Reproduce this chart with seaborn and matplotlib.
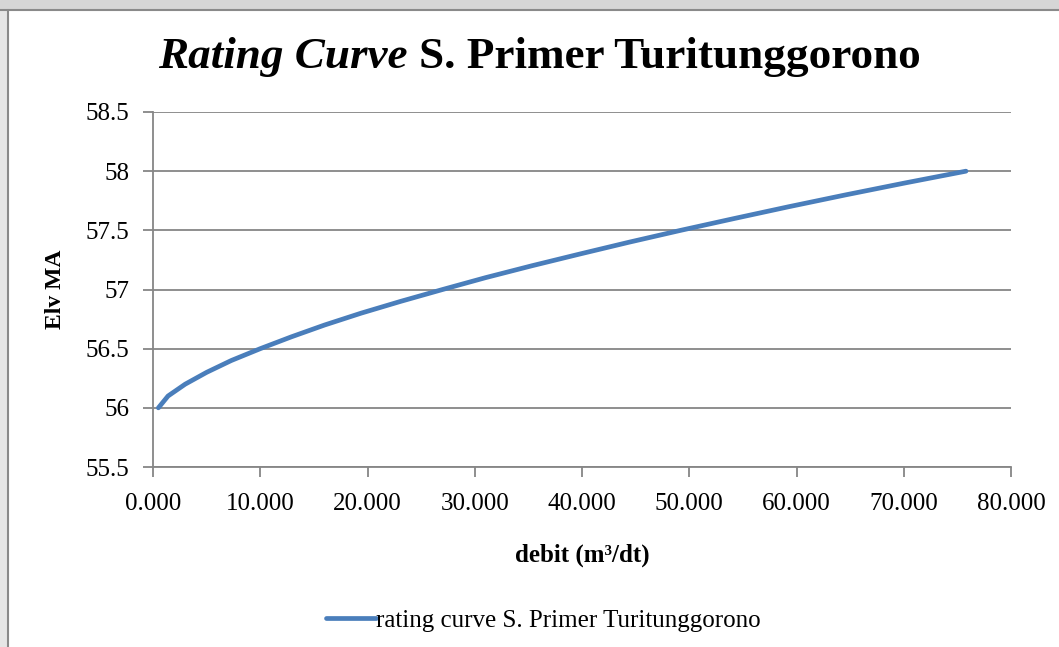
import seaborn as sns
import matplotlib.pyplot as plt
import matplotlib.patches as mpatches
import matplotlib.lines as mlines
import pandas as pd

# Data: elevation (m) vs discharge (m3/dt)
elevation = [56.0, 56.1, 56.2, 56.3, 56.4, 56.5, 56.6, 56.7, 56.8, 56.9, 57.0,
             57.1, 57.2, 57.3, 57.4, 57.5, 57.6, 57.7, 57.8, 57.9, 58.0]
debit = [0.5, 1.4, 3.0, 5.0, 7.3, 10.0, 12.9, 16.0, 19.4, 23.1, 27.0,
         31.0, 35.3, 39.8, 44.4, 49.2, 54.2, 59.3, 64.6, 70.1, 75.8]
series_name = "rating curve S. Primer Turitunggorono"
y_ticks = [55.5, 56, 56.5, 57, 57.5, 58, 58.5]
x_ticks = [0, 10, 20, 30, 40, 50, 60, 70, 80]

df = pd.DataFrame({"debit": debit, "elv": elevation})

sns.set_style("white")
plt.rcParams["font.family"] = ["Liberation Serif", "DejaVu Serif"]
plt.rcParams["text.color"] = "black"
plt.rcParams["axes.labelcolor"] = "black"

fig = plt.figure(figsize=(10.59, 6.47), dpi=100)
ax = fig.add_axes([0.1445, 0.2782, 0.8102, 0.5487])

line_color = "#4a7ebb"
grid_color = "#868686"

sns.lineplot(data=df, x="debit", y="elv", ax=ax, color=line_color,
             linewidth=3.4, sort=False, legend=False)

ax.set_xlim(0, 80)
ax.set_ylim(55.5, 58.5)
ax.set_xticks(x_ticks)
ax.set_xticklabels([f"{v:.3f}" for v in x_ticks])
ax.set_yticks(y_ticks)
ax.set_yticklabels([f"{v:g}" for v in y_ticks])
ax.yaxis.grid(True, color=grid_color, linewidth=1.3)
ax.set_axisbelow(True)

for s in ["top", "right"]:
    ax.spines[s].set_visible(False)
for s in ["left", "bottom"]:
    ax.spines[s].set_color(grid_color)
    ax.spines[s].set_linewidth(1.3)

ax.tick_params(axis="both", which="major", direction="out", length=7,
               width=1.3, color=grid_color, labelsize=18, labelcolor="black",
               bottom=True, left=True)
ax.tick_params(axis="x", pad=12)
ax.tick_params(axis="y", pad=10)

ax.set_xlabel("debit (m³/dt)", fontsize=18, fontweight="bold", labelpad=20)
ax.set_ylabel("Elv MA", fontsize=17, fontweight="bold", labelpad=14)

# legend below the axes
handle = mlines.Line2D([], [], color=line_color, linewidth=3.4)
fig.legend([handle], [series_name], loc="center", bbox_to_anchor=(0.513, 0.041),
           frameon=False, fontsize=18, handlelength=2.0, handletextpad=0.0)

# title: italic part + bold part
title_y = 1 - 57 / 647
t1 = fig.text(0, title_y, "Rating Curve ", fontsize=32.5, fontweight="bold",
              fontstyle="italic", va="center", ha="left")
t2 = fig.text(0, title_y, "S. Primer Turitunggorono", fontsize=32.5,
              fontweight="bold", va="center", ha="left")
fig.canvas.draw()
r = fig.canvas.get_renderer()
w1 = t1.get_window_extent(r).width / fig.bbox.width
w2 = t2.get_window_extent(r).width / fig.bbox.width
x0 = 539 / 1059 - (w1 + w2) / 2
t1.set_x(x0)
t2.set_x(x0 + w1)

# screenshot frame: gray strip on top and left
fig.patches.append(mpatches.Rectangle((0, 1 - 9 / 647), 1, 9 / 647,
                                      transform=fig.transFigure,
                                      color="#d6d6d6", zorder=0))
fig.lines.append(mlines.Line2D([0, 1], [1 - 10 / 647, 1 - 10 / 647],
                               transform=fig.transFigure,
                               color="#8a8a8a", linewidth=1.5))
fig.patches.append(mpatches.Rectangle((0, 0), 7 / 1059, 1 - 10 / 647,
                                      transform=fig.transFigure,
                                      color="#e6e6e6", zorder=0))
fig.lines.append(mlines.Line2D([7.5 / 1059, 7.5 / 1059], [0, 1 - 10 / 647],
                               transform=fig.transFigure,
                               color="#8a8a8a", linewidth=1.5))

fig.savefig("out.png", dpi=100)
